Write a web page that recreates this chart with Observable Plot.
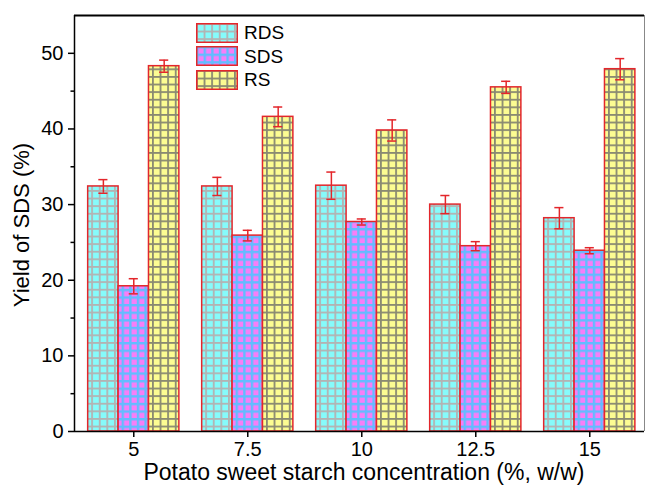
<!DOCTYPE html>
<html>
<head>
<meta charset="utf-8">
<script src="https://cdn.jsdelivr.net/npm/d3@7"></script>
<script src="https://cdn.jsdelivr.net/npm/@observablehq/plot@0.6"></script>
<style>
  html, body { margin: 0; padding: 0; background: #fff; }
  #chart { position: relative; width: 646px; height: 495px; overflow: hidden;
           font-family: "Liberation Sans", Arial, sans-serif; color: #000; }
  #chart svg { display: block; }
  .xtitle { position: absolute; left: 74px; width: 580px; top: 462px; text-align: center;
            font-size: 23px; line-height: 20px; white-space: nowrap; }
  .ytitle { position: absolute; left: 22px; top: 225px; font-size: 22px; line-height: 22px;
            white-space: nowrap; transform: translate(-50%, -50%) rotate(-90deg); }
  #legend { position: absolute; left: 196px; top: 21px; }
  .lrow { display: flex; align-items: center; height: 23.5px; }
  .lrow svg { margin-right: 6px; }
  .lrow span { font-size: 19px; line-height: 19px; }
</style>
</head>
<body>
<div id="chart"></div>
<script>
// ---- data ----
const concentrations = [5, 7.5, 10, 12.5, 15];
const seriesNames = ["RDS", "SDS", "RS"];
const rdsValues = [32.4, 32.4, 32.5, 30.0, 28.2];
const rdsErrors = [0.9, 1.2, 1.8, 1.2, 1.4];
const sdsValues = [19.2, 25.9, 27.7, 24.5, 23.9];
const sdsErrors = [1.0, 0.7, 0.4, 0.6, 0.4];
const rsValues = [48.3, 41.6, 39.8, 45.5, 47.9];
const rsErrors = [0.8, 1.3, 1.4, 0.8, 1.4];
const yTicks = [0, 10, 20, 30, 40, 50];
const yMinorTicks = [5, 15, 25, 35, 45];
const xLabel = "Potato sweet starch concentration (%, w/w)";
const yLabel = "Yield of SDS (%)";

// ---- table built from arrays ----
const valueSets = [rdsValues, sdsValues, rsValues];
const errorSets = [rdsErrors, sdsErrors, rsErrors];
const rows = [];
seriesNames.forEach((s, k) => {
  concentrations.forEach((c, i) => {
    rows.push({conc: c, series: s, value: valueSets[k][i], err: errorSets[k][i], slot: k - 1});
  });
});

// ---- layout / style ----
const barW = 2 / 3;        // bar width in x units
const capHalf = 0.1;       // error-bar cap half width in x units
const xDomain = [3.7, 16.2];
const yDomain = [0, 55];
const red = "#e3262b";
const patternIds = ["pat-rds", "pat-sds", "pat-rs"];
const center = d => d.conc + d.slot * barW;

const svg = Plot.plot({
  width: 646,
  height: 495,
  marginLeft: 74,
  marginRight: 2,
  marginTop: 15,
  marginBottom: 64,
  style: {fontFamily: "Liberation Sans, Arial, sans-serif", fontSize: "20px", color: "#000", background: "#fff"},
  x: {domain: xDomain, label: null},
  y: {domain: yDomain, label: null},
  color: {domain: seriesNames, range: patternIds.map(id => `url(#${id})`)},
  marks: [
    Plot.rect(rows, {
      x1: d => center(d) - barW / 2,
      x2: d => center(d) + barW / 2,
      y1: 0,
      y2: "value",
      fill: "series",
      stroke: red,
      strokeWidth: 1.5
    }),
    Plot.ruleX(rows, {x: center, y1: d => d.value - d.err, y2: d => d.value + d.err, stroke: red, strokeWidth: 1.5}),
    Plot.ruleY(rows, {y: d => d.value + d.err, x1: d => center(d) - capHalf, x2: d => center(d) + capHalf, stroke: red, strokeWidth: 1.5}),
    Plot.ruleY(rows, {y: d => d.value - d.err, x1: d => center(d) - capHalf, x2: d => center(d) + capHalf, stroke: red, strokeWidth: 1.5}),
    Plot.axisY({ticks: yTicks, tickSize: 6, tickPadding: 5, fontSize: 20, label: null, strokeWidth: 1.5}),
    Plot.axisY({ticks: yMinorTicks, tickSize: 3.5, tickFormat: () => "", label: null, strokeWidth: 1.5}),
    Plot.axisX({ticks: concentrations, tickSize: 6, tickPadding: 4, fontSize: 20, label: null, strokeWidth: 1.5, tickFormat: d => String(d)}),
    Plot.ruleX([xDomain[1]], {stroke: "#888", strokeWidth: 1}),
    Plot.ruleY([yDomain[1]], {stroke: "#000", strokeWidth: 2}),
    Plot.ruleX([xDomain[0]], {stroke: "#000", strokeWidth: 1.5}),
    Plot.ruleY([yDomain[0]], {stroke: "#000", strokeWidth: 1.5})
  ]
});

// ---- hatch patterns ----
const defs = d3.select(svg).insert("defs", ":first-child");
function addPattern(id, bg, line, lw) {
  const s = 7.6;
  const p = defs.append("pattern").attr("id", id)
    .attr("patternUnits", "userSpaceOnUse").attr("width", s).attr("height", s);
  p.append("rect").attr("width", s).attr("height", s).attr("fill", bg);
  p.append("rect").attr("width", s).attr("height", lw).attr("fill", line);
  p.append("rect").attr("width", lw).attr("height", s).attr("fill", line);
}
addPattern("pat-rds", "#86fbfb", "#b3b3b3", 1.8);
addPattern("pat-sds", "#f77ef7", "#62bcff", 2.4);
addPattern("pat-rs", "#fcfc92", "#8a8a72", 1.8);

const chart = document.getElementById("chart");
chart.appendChild(svg);

// ---- axis titles ----
const xt = document.createElement("div");
xt.className = "xtitle"; xt.textContent = xLabel; chart.appendChild(xt);
const yt = document.createElement("div");
yt.className = "ytitle"; yt.textContent = yLabel; chart.appendChild(yt);

// ---- legend ----
const legend = document.createElement("div");
legend.id = "legend";
seriesNames.forEach((s, k) => {
  const row = document.createElement("div");
  row.className = "lrow";
  row.innerHTML = `<svg width="42" height="20"><rect x="0.75" y="0.75" width="40.5" height="18.5" fill="url(#${patternIds[k]})" stroke="${red}" stroke-width="1.5"/></svg><span>${s}</span>`;
  legend.appendChild(row);
});
chart.appendChild(legend);
</script>
</body>
</html>
